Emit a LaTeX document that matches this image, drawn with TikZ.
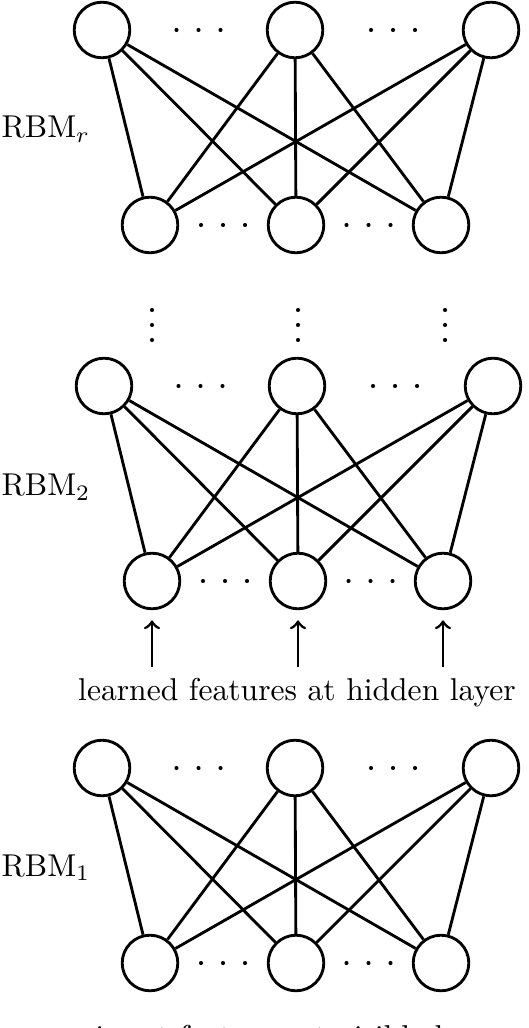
\documentclass[tikz,border=0pt]{standalone}
\usetikzlibrary{calc}

\tikzset{
  unit/.style={draw,circle,line width=0.9pt,minimum size=17.6pt,inner sep=0pt},
  link/.style={line width=0.9pt},
  feat/.style={->,line width=0.9pt,shorten >=3.2pt},
}
\newcommand{\dotrow}[1]{\fill #1 +(-22,0) circle (0.65pt) +(0,0) circle (0.65pt) +(22,0) circle (0.65pt);}

\begin{document}
\begin{tikzpicture}[x=0.3165pt,y=-0.3165pt]
  \useasboundingbox (0,0) rectangle (528,1028);
  % three stacked RBMs: name / top row y / bottom row y / shift
  \foreach \blk/\yt/\yb/\dx in {r/30/225/0,two/386/581/2,one/768/963/0}{
    \node[unit] (\blk t1) at (102+\dx,\yt) {};
    \node[unit] (\blk t2) at (295+\dx,\yt) {};
    \node[unit] (\blk t3) at (491+\dx,\yt) {};
    \node[unit] (\blk b1) at (150+\dx,\yb) {};
    \node[unit] (\blk b2) at (296+\dx,\yb) {};
    \node[unit] (\blk b3) at (441+\dx,\yb) {};
    \foreach \i in {1,2,3}
      \foreach \j in {1,2,3}
        \draw[link] (\blk t\i) -- (\blk b\j);
    \dotrow{($(\blk t1)!0.5!(\blk t2)$)}
    \dotrow{($(\blk t2)!0.5!(\blk t3)$)}
    \dotrow{($(\blk b1)!0.5!(\blk b2)$)}
    \dotrow{($(\blk b2)!0.5!(\blk b3)$)}
  }
  \node[anchor=base west,inner sep=0pt] (labr) at (1,138) {RBM$_r$};
  \node[anchor=base west,inner sep=0pt] (labtwo) at (1,496) {RBM$_2$};
  \node[anchor=base west,inner sep=0pt] (labone) at (1,876) {RBM$_1$};
  % vertical dots between the stacks
  \foreach \x in {152,298,445}
    \fill (\x,310) circle (0.65pt) (\x,325) circle (0.65pt) (\x,340) circle (0.65pt);
  \node[anchor=base] (hidlbl) at (297,700) {learned features at hidden layer};
  \node[anchor=base] (vislbl) at (298,1047) {input features at visible layer};
  \foreach \j in {1,2,3}
    \draw[feat] (hidlbl.north -| twob\j) -- (twob\j);
\end{tikzpicture}
\end{document}
